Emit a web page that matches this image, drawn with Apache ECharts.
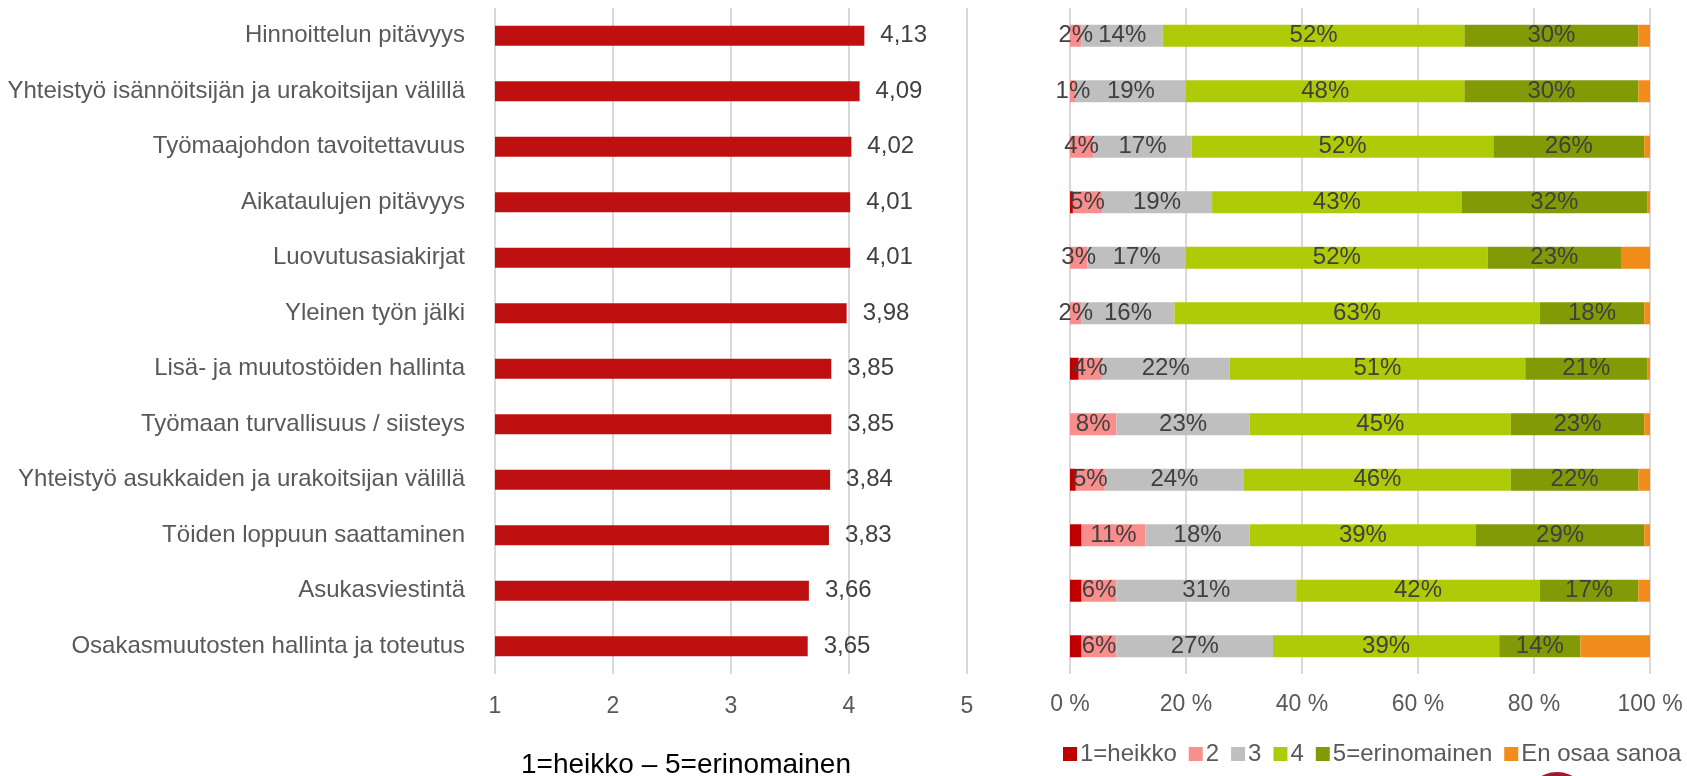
<!DOCTYPE html>
<html>
<head>
<meta charset="utf-8">
<title>Arviot</title>
<script src="https://cdn.jsdelivr.net/npm/echarts@6/dist/echarts.min.js"></script>
<style>
  html, body { margin: 0; padding: 0; background: #fff; }
  #main { width: 1687px; height: 776px; }
</style>
</head>
<body>
<div id="main"></div>
<script>
var categories = [
  'Hinnoittelun pitävyys',
  'Yhteistyö isännöitsijän ja urakoitsijan välillä',
  'Työmaajohdon tavoitettavuus',
  'Aikataulujen pitävyys',
  'Luovutusasiakirjat',
  'Yleinen työn jälki',
  'Lisä- ja muutostöiden hallinta',
  'Työmaan turvallisuus / siisteys',
  'Yhteistyö asukkaiden ja urakoitsijan välillä',
  'Töiden loppuun saattaminen',
  'Asukasviestintä',
  'Osakasmuutosten hallinta ja toteutus'
]
// keskiarvot 1-5
var averages = [4.13, 4.09, 4.02, 4.01, 4.01, 3.98, 3.85, 3.85, 3.84, 3.83, 3.66, 3.65]
var avgTicks = [1, 2, 3, 4, 5]

// jakaumat %
var seriesNames = ['1=heikko', '2', '3', '4', '5=erinomainen', 'En osaa sanoa']
var heikko = [0, 0, 0, 0.5, 0, 0, 1.5, 0, 1, 2, 2, 2]
var kaksi = [2, 1, 4, 5, 3, 2, 4, 8, 5, 11, 6, 6]
var kolme = [14, 19, 17, 19, 17, 16, 22, 23, 24, 18, 31, 27]
var nelja = [52, 48, 52, 43, 52, 63, 51, 45, 46, 39, 42, 39]
var erinomainen = [30, 30, 26, 32, 23, 18, 21, 23, 22, 29, 17, 14]
var eos = [2, 2, 1, 0.5, 5, 1, 0.5, 1, 2, 1, 2, 12]
var pctTicks = [0, 20, 40, 60, 80, 100]

var colors = ['#C00000', '#F98E8C', '#BFBFBF', '#AFCB08', '#829A06', '#F28C1A']
var font = '"Liberation Sans", Arial, sans-serif'

var chart = echarts.init(document.getElementById('main'))

var stackData = [heikko, kaksi, kolme, nelja, erinomainen, eos]
var stackSeries = stackData.map(function (arr, i) {
  return {
    name: seriesNames[i],
    type: 'bar',
    stack: 'jakauma',
    xAxisIndex: 1,
    yAxisIndex: 1,
    barWidth: 22,
    itemStyle: { color: colors[i] },
    label: {
      show: i >= 1 && i <= 4,
      position: 'inside',
      color: '#404040',
      fontSize: 24,
      fontFamily: font,
      formatter: function (p) { return Math.round(p.value) + '%' }
    },
    data: arr
  }
})

var option = {
  animation: false,
  textStyle: { fontFamily: font },
  title: {
    text: '1=heikko – 5=erinomainen',
    left: 516,
    top: 746,
    textStyle: { fontSize: 28, fontWeight: 'normal', color: '#000', fontFamily: font }
  },
  legend: {
    data: seriesNames,
    left: 1058,
    top: 737,
    itemWidth: 14,
    itemHeight: 14,
    itemGap: 12,
    icon: 'rect',
    textStyle: { fontSize: 24, color: '#595959', fontFamily: font, padding: [0, 0, 0, -2] }
  },
  grid: [
    { left: 495, right: 720, top: 8, bottom: 102 },
    { left: 1070, right: 37, top: 8, bottom: 102 }
  ],
  xAxis: [
    {
      gridIndex: 0,
      type: 'value',
      min: avgTicks[0],
      max: avgTicks[avgTicks.length - 1],
      interval: 1,
      axisLine: { show: false },
      axisTick: { show: false },
      splitLine: { lineStyle: { color: '#D9D9D9', width: 2 } },
      axisLabel: { color: '#595959', fontSize: 23, margin: 21, fontFamily: font }
    },
    {
      gridIndex: 1,
      type: 'value',
      min: pctTicks[0],
      max: pctTicks[pctTicks.length - 1],
      interval: 20,
      axisLine: { show: false },
      axisTick: { show: false },
      splitLine: { lineStyle: { color: '#D9D9D9', width: 2 } },
      axisLabel: { color: '#595959', fontSize: 23, margin: 19, fontFamily: font, formatter: '{value} %' }
    }
  ],
  yAxis: [
    {
      gridIndex: 0,
      type: 'category',
      data: categories,
      inverse: true,
      axisLine: { show: false },
      axisTick: { show: false },
      axisLabel: { color: '#595959', fontSize: 24, margin: 30, fontFamily: font }
    },
    {
      gridIndex: 1,
      type: 'category',
      data: categories,
      inverse: true,
      axisLine: { show: false },
      axisTick: { show: false },
      axisLabel: { show: false }
    }
  ],
  series: [
    {
      name: 'Keskiarvo',
      type: 'bar',
      xAxisIndex: 0,
      yAxisIndex: 0,
      barWidth: 20,
      itemStyle: { color: '#BE1010' },
      label: {
        show: true,
        position: 'right',
        distance: 16,
        color: '#404040',
        fontSize: 24,
        fontFamily: font,
        formatter: function (p) { return p.value.toFixed(2).replace('.', ',') }
      },
      data: averages
    }
  ].concat(stackSeries),
  graphic: [
    {
      type: 'circle',
      shape: { cx: 1557, cy: 804, r: 32 },
      style: { fill: '#A0182C' },
      silent: true
    }
  ]
}

chart.setOption(option)
window.onresize = function () {
  chart.resize()
}
</script>
</body>
</html>
